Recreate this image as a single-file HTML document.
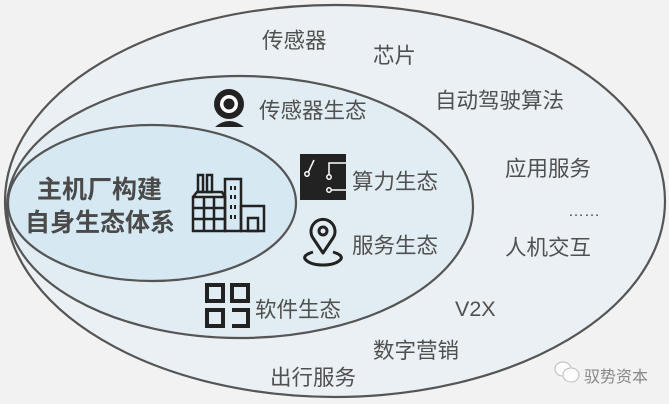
<!DOCTYPE html>
<html><head><meta charset="utf-8"><style>
html,body{margin:0;padding:0;background:#f2f2f2;}
svg{display:block}
text{font-family:"Liberation Sans","Noto Sans CJK SC",sans-serif;fill:#505050;}
</style></head><body>
<svg width="669" height="404" viewBox="0 0 669 404" xmlns="http://www.w3.org/2000/svg">
<rect width="669" height="404" fill="#f2f2f2"/>
<ellipse cx="335" cy="201" rx="330" ry="196" fill="#eaf0f3" stroke="#555" stroke-width="2.2"/>
<ellipse cx="240" cy="207" rx="233" ry="131" fill="#e1edf3" stroke="#555" stroke-width="2.2"/>
<ellipse cx="152" cy="203" rx="144" ry="78" fill="#d6e8f1" stroke="#555" stroke-width="2.2"/>

<g font-size="21.5">
<text x="262" y="48">传感器</text>
<text x="373" y="63">芯片</text>
<text x="435" y="108">自动驾驶算法</text>
<text x="505" y="176">应用服务</text>
<text x="568" y="216" font-size="16">……</text>
<text x="505" y="255">人机交互</text>
<text x="455" y="316">V2X</text>
<text x="373" y="358">数字营销</text>
<text x="270" y="385">出行服务</text>
<text x="259" y="118">传感器生态</text>
<text x="352" y="189">算力生态</text>
<text x="352" y="253">服务生态</text>
<text x="255" y="317">软件生态</text>
</g>
<g font-size="25" font-weight="bold">
<text x="37" y="198" style="fill:#4a4a4a">主机厂构建</text>
<text x="25" y="231" style="fill:#4a4a4a">自身生态体系</text>
</g>

<!-- camera -->
<circle cx="229" cy="104" r="15" fill="#222"/>
<circle cx="229" cy="104" r="9" fill="#fff"/>
<circle cx="229" cy="104" r="5.5" fill="#222"/>
<path d="M215 127 Q229 115 244 127 Z" fill="#222"/>

<!-- factory -->
<g fill="none" stroke="#222" stroke-width="2.5">
<rect x="193" y="197" width="32" height="34"/>
<line x1="193" y1="208" x2="225" y2="208"/><line x1="193" y1="219" x2="225" y2="219"/>
<line x1="204" y1="197" x2="204" y2="231"/><line x1="214" y1="197" x2="214" y2="231"/>
<path d="M193 197 L197 192 L222 192 L225 197"/>
<rect x="198" y="175" width="5" height="17"/><rect x="207" y="175" width="5" height="17"/>
<rect x="225" y="179" width="16" height="52"/>
<rect x="241" y="206" width="23" height="25"/>
<rect x="248" y="218" width="10" height="13"/>
</g>
<g fill="#222"><rect x="230" y="186" width="2" height="4"/><rect x="234" y="186" width="2" height="4"/>
<rect x="230" y="195" width="2" height="4"/><rect x="234" y="195" width="2" height="4"/>
<rect x="230" y="205" width="2" height="4"/><rect x="234" y="205" width="2" height="4"/>
<rect x="230" y="215" width="2" height="4"/><rect x="234" y="215" width="2" height="4"/></g>

<!-- chip -->
<rect x="300" y="154" width="46" height="46" fill="#222"/>
<g stroke="#fff" stroke-width="1.5" fill="none">
<path d="M308 173 L314 160"/><circle cx="307" cy="174" r="2.2" fill="#222"/>
<path d="M329 175 L329 163 L346 163"/><circle cx="329" cy="177" r="2.2" fill="#222"/>
<path d="M331 190 L346 190"/><circle cx="329" cy="190" r="2.2" fill="#222"/>
</g>

<!-- pin -->
<g fill="none" stroke="#222" stroke-width="3">
<path d="M323 253 L313 238 A12 12 0 1 1 333 238 Z" stroke-linejoin="round"/>
<circle cx="323" cy="231" r="4"/>
<path d="M313 252 Q303 255 305 259 Q310 265 323 265 Q336 265 341 259 Q343 255 333 252"/>
</g>

<!-- grid -->
<g fill="none" stroke="#222" stroke-width="4">
<rect x="207" y="285" width="16" height="16"/><rect x="232" y="285" width="16" height="16"/>
<rect x="207" y="310" width="16" height="16"/><path d="M232 310 L248 310 L248 326 L232 326"/>
</g>

<!-- watermark -->
<g fill="#fff" stroke="#bbb" stroke-width="1">
<ellipse cx="563" cy="369" rx="8" ry="7"/><ellipse cx="571" cy="375" rx="8" ry="7"/>
</g>
<text x="584" y="382" font-size="16" style="fill:#888">驭势资本</text>
</svg>
</body></html>
